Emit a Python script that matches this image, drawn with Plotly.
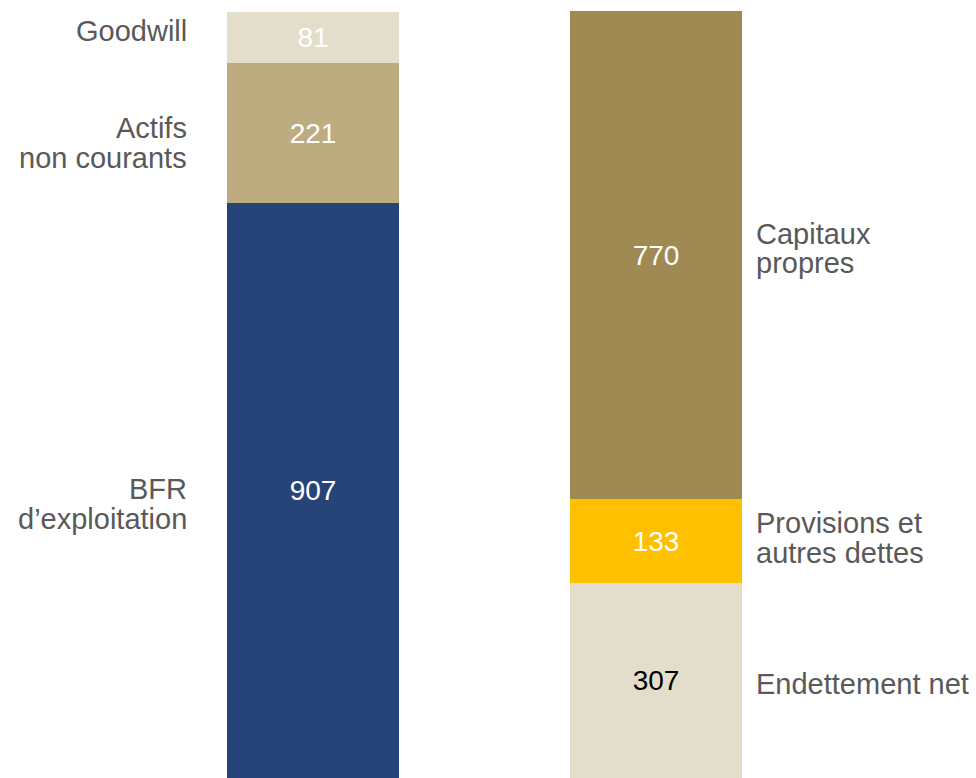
import plotly.graph_objects as go

# ---- data (bottom to top) ----
columns = [0, 1]  # 0 = actif, 1 = passif
left_lines = [["BFR", "d’exploitation"], ["Actifs", "non courants"], ["Goodwill"]]
left_values = [907, 221, 81]
right_lines = [["Endettement net"], ["Provisions et", "autres dettes"], ["Capitaux", "propres"]]
right_values = [307, 133, 770]

# ---- styles ----
left_colors = ["#264478", "#BDAC80", "#E3DECB"]
right_colors = ["#E3DECB", "#FFC000", "#A08A54"]
left_text_colors = ["white", "white", "white"]
right_text_colors = ["black", "white", "white"]
# per-line pixel offsets of the category labels from the segment middle
left_shifts = [[2, -28], [5, -25], [6]]
right_shifts = [[-3], [18, -12], [21.5, -7.5]]

FONT = "Liberation Sans, Arial, sans-serif"
LABEL_COLOR = "#595959"
W, H = 976, 778
px_per_x = 343.0
x0_px = 313.0
bar_w = 172.0 / px_per_x
ymax = max(sum(left_values), sum(right_values)) * 778.0 / 767.0

fig = go.Figure()
annotations = []


def add_column(xpos, values, colors, tcolors, lines, shifts, side):
    base = 0
    for v, c, tc, ls, sh in zip(values, colors, tcolors, lines, shifts):
        fig.add_trace(go.Bar(
            x=[xpos], y=[v], width=bar_w,
            marker=dict(color=c, line=dict(width=0)),
            text=[str(v)], textposition="inside", insidetextanchor="middle",
            textangle=0,
            textfont=dict(size=28, color=tc, family=FONT),
            showlegend=False, hoverinfo="skip",
        ))
        mid = base + v / 2.0
        for line, s in zip(ls, sh):
            if side == "left":
                ax = xpos + (189 - 313) / px_per_x
                anchor = "right"
            else:
                ax = xpos + (754 - 656) / px_per_x
                anchor = "left"
            annotations.append(dict(
                x=ax, y=mid, xref="x", yref="y", text=line, showarrow=False,
                xanchor=anchor, yanchor="middle", yshift=s,
                font=dict(size=29, color=LABEL_COLOR, family=FONT),
            ))
        base += v


add_column(columns[0], left_values, left_colors, left_text_colors, left_lines, left_shifts, "left")
add_column(columns[1], right_values, right_colors, right_text_colors, right_lines, right_shifts, "right")

fig.update_layout(
    barmode="stack",
    width=W, height=H,
    margin=dict(l=0, r=0, t=0, b=0),
    paper_bgcolor="white", plot_bgcolor="white",
    xaxis=dict(range=[-x0_px / px_per_x, (W - x0_px) / px_per_x], visible=False, fixedrange=True),
    yaxis=dict(range=[0, ymax], visible=False, fixedrange=True),
    annotations=annotations,
    bargap=0,
)

fig.write_html(
    "out.html",
    config={"displayModeBar": False},
    post_script="document.body.style.margin='0';document.body.style.overflow='hidden';",
)
